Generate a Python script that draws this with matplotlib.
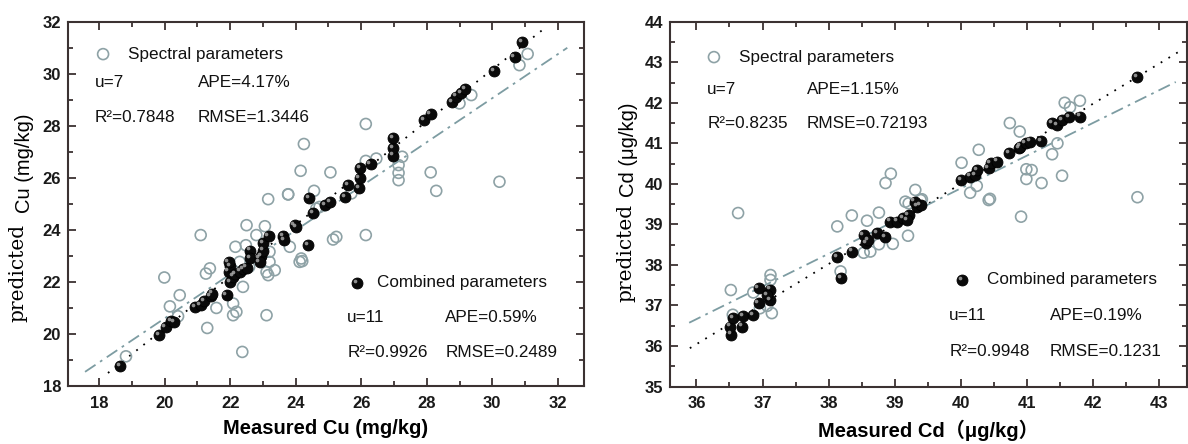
import matplotlib
matplotlib.use("Agg")
import matplotlib.pyplot as plt
import matplotlib.transforms as mtransforms
from matplotlib.ticker import MultipleLocator
import numpy as np

# ---- data ----
# Cu, spectral parameters (open circles)
cu_spec_meas = [18.82, 19.99, 20.16, 20.46, 20.41, 21.10, 21.30, 21.38, 21.26, 21.58,
                22.09, 22.09, 22.19, 22.16, 22.37, 22.39, 22.50, 22.48, 22.80, 23.06,
                23.11, 23.16, 23.11, 23.36, 23.20, 23.20, 23.82, 24.12, 22.58, 22.29,
                26.14, 24.25, 24.15, 25.06, 23.77, 24.56, 26.14, 26.46, 27.25, 27.14,
                27.14, 27.14, 28.12, 28.29, 30.22, 29.00, 29.36, 30.83, 31.08, 25.70,
                24.63, 24.17, 24.20, 25.14, 25.24, 26.14, 24.73, 23.16, 23.77]
cu_spec_pred = [19.14, 22.17, 21.06, 21.49, 20.68, 23.80, 20.23, 22.52, 22.32, 21.00,
                21.17, 20.72, 20.85, 23.35, 19.31, 21.81, 24.18, 23.41, 23.80, 24.14,
                20.72, 22.26, 22.38, 22.45, 22.77, 23.16, 23.35, 22.77, 22.58, 22.77,
                28.07, 27.30, 26.27, 26.21, 25.37, 25.50, 26.65, 26.74, 26.81, 26.49,
                26.19, 25.91, 26.21, 25.50, 25.85, 28.86, 29.18, 30.33, 30.76, 25.40,
                24.82, 22.90, 22.80, 23.63, 23.73, 23.80, 24.88, 25.18, 25.36]
# Cu, combined parameters (filled circles)
cu_comb_meas = [18.64, 19.83, 20.03, 20.20, 20.30, 20.92, 21.10, 21.20, 21.40, 21.45,
                21.89, 22.00, 22.10, 21.95, 22.00, 21.95, 22.15, 22.30, 22.40, 22.50,
                22.60, 22.60, 22.90, 22.95, 23.00, 23.00, 23.17, 22.90, 23.61, 23.65,
                23.97, 24.02, 24.38, 24.53, 24.89, 25.04, 24.40, 25.50, 25.60, 25.93,
                25.95, 25.97, 26.29, 26.97, 26.97, 26.97, 27.93, 28.12, 28.78, 28.90,
                29.05, 29.17, 30.05, 30.68, 30.91]
cu_comb_pred = [18.75, 19.95, 20.27, 20.50, 20.45, 21.04, 21.10, 21.25, 21.45, 21.55,
                21.49, 22.00, 22.20, 22.40, 22.60, 22.75, 22.30, 22.40, 22.50, 22.55,
                23.20, 22.90, 22.90, 23.00, 23.20, 23.50, 23.76, 22.75, 23.76, 23.60,
                24.18, 24.10, 23.41, 24.63, 24.95, 25.08, 25.21, 25.27, 25.72, 25.59,
                26.00, 26.38, 26.53, 26.85, 27.13, 27.52, 28.22, 28.45, 28.92, 29.12,
                29.27, 29.40, 30.10, 30.65, 31.21]

# Cd, spectral parameters
cd_spec_meas = [36.63, 36.52, 36.55, 36.86, 37.12, 37.12, 37.14, 37.07, 36.96, 38.13,
                38.35, 38.58, 38.76, 38.18, 38.53, 38.63, 38.76, 38.97, 39.20, 39.16,
                38.86, 38.94, 39.31, 39.39, 39.21, 40.01, 40.27, 40.14, 40.24, 40.44,
                40.74, 40.89, 40.99, 41.07, 40.99, 41.22, 40.91, 41.38, 41.46, 41.53,
                41.57, 41.65, 41.80, 42.67, 39.41, 40.42]
cd_spec_pred = [39.28, 37.38, 36.77, 37.32, 37.75, 37.63, 36.81, 36.99, 36.93, 38.95,
                39.22, 39.09, 39.29, 37.84, 38.30, 38.33, 38.51, 38.52, 38.72, 39.56,
                40.02, 40.25, 39.85, 39.60, 39.52, 40.52, 40.84, 39.78, 39.95, 39.63,
                41.50, 41.29, 40.36, 40.34, 40.12, 40.02, 39.19, 40.73, 41.00, 40.20,
                42.00, 41.89, 42.05, 39.67, 39.62, 39.60]
# Cd, combined parameters
cd_comb_meas = [36.53, 36.51, 36.56, 36.69, 36.70, 36.86, 36.94, 36.94, 37.12, 37.12,
                37.07, 38.13, 38.19, 38.35, 38.53, 38.57, 38.60, 38.73, 38.85, 38.93,
                39.03, 39.13, 39.21, 39.19, 39.34, 39.39, 39.30, 40.00, 40.14, 40.22,
                40.25, 40.42, 40.45, 40.55, 40.73, 40.88, 40.90, 40.98, 41.05, 41.21,
                41.38, 41.46, 41.53, 41.64, 41.80, 42.67]
cd_comb_pred = [36.28, 36.48, 36.69, 36.48, 36.73, 36.77, 37.06, 37.43, 37.14, 37.39,
                37.26, 38.19, 37.67, 38.33, 38.74, 38.54, 38.62, 38.78, 38.68, 39.07,
                39.07, 39.15, 39.23, 39.11, 39.44, 39.48, 39.56, 40.10, 40.18, 40.22,
                40.33, 40.39, 40.51, 40.55, 40.76, 40.88, 40.92, 41.00, 41.04, 41.06,
                41.50, 41.45, 41.58, 41.64, 41.66, 42.63]

# fitted lines (slope, intercept) and x extent
cu_comb_fit = (0.994, 0.34)
cu_spec_fit = (0.846, 3.68)
cu_comb_range = (18.27, 31.53)
cu_spec_range = (17.57, 32.29)
cd_comb_fit = (0.989, 0.44)
cd_spec_fit = (0.807, 7.61)
cd_comb_range = (35.90, 43.28)
cd_spec_range = (35.89, 43.25)

cu_stats = {"spec": ("u=7", "APE=4.17%", "R\u00b2=0.7848", "RMSE=1.3446"),
            "comb": ("u=11", "APE=0.59%", "R\u00b2=0.9926", "RMSE=0.2489")}
cd_stats = {"spec": ("u=7", "APE=1.15%", "R\u00b2=0.8235", "RMSE=0.72193"),
            "comb": ("u=11", "APE=0.19%", "R\u00b2=0.9948", "RMSE=0.1231")}

SANS = ["Liberation Sans", "DejaVu Sans"]
OPEN_COLOR = "#8ea2a6"
LINE_COLOR = "#7d9ca2"
SPINE_COLOR = "#3b3232"
MS = 62

fig = plt.figure(figsize=(11.88, 4.44), dpi=100)
fig.patch.set_facecolor("white")


def spheres(ax, x, y, transform=None):
    """filled black markers with a small highlight, like the shaded balls"""
    tr = transform if transform is not None else ax.transData
    ax.scatter(x, y, s=MS, c="#0a0a0a", edgecolors="black", linewidths=0.6,
               zorder=4, transform=tr, clip_on=False)
    off = mtransforms.ScaledTranslation(-1.6 / 72, 1.6 / 72, fig.dpi_scale_trans)
    ax.scatter(x, y, s=7, c="#b0b0b0", linewidths=0, alpha=0.8,
               zorder=5, transform=tr + off, clip_on=False)


def open_circles(ax, x, y, transform=None):
    tr = transform if transform is not None else ax.transData
    ax.scatter(x, y, s=MS, facecolors="none", edgecolors=OPEN_COLOR,
               linewidths=1.2, zorder=3, transform=tr, clip_on=False)


def style_axes(ax, xlim, ylim, xmaj, xmin, ymaj, ymin):
    ax.set_xlim(*xlim)
    ax.set_ylim(*ylim)
    ax.xaxis.set_major_locator(MultipleLocator(xmaj))
    ax.xaxis.set_minor_locator(MultipleLocator(xmin))
    ax.yaxis.set_major_locator(MultipleLocator(ymaj))
    ax.yaxis.set_minor_locator(MultipleLocator(ymin))
    for s in ax.spines.values():
        s.set_color(SPINE_COLOR)
        s.set_linewidth(1.5)
    ax.tick_params(which="both", direction="in", top=True, right=True,
                   colors=SPINE_COLOR, width=1.3)
    ax.tick_params(which="major", length=6)
    ax.tick_params(which="minor", length=3.5)
    ax.tick_params(axis="x", pad=7)
    ax.tick_params(axis="y", pad=5)
    for lab in ax.get_xticklabels() + ax.get_yticklabels():
        lab.set_family(SANS)
        lab.set_fontweight("bold")
        lab.set_fontsize(12)
        lab.set_color("#1a1a1a")


def fit_lines(ax, comb_fit, comb_rng, spec_fit, spec_rng):
    xs = np.array(comb_rng)
    ax.plot(xs, comb_fit[0] * xs + comb_fit[1], color="black", lw=1.3,
            linestyle=(0, (1, 4)), zorder=2)
    xs = np.array(spec_rng)
    ax.plot(xs, spec_fit[0] * xs + spec_fit[1], color=LINE_COLOR, lw=1.3,
            linestyle=(0, (7, 3, 1.5, 3)), zorder=2)


def stats_block(ax, stats, pos):
    kw = dict(transform=ax.transAxes, family=SANS, fontsize=12.3,
              va="center", ha="left", color="#111111", zorder=6)
    # pos: marker xy, label x, column1 x, column2 x, row1 y, row2 y
    (mx, my), lx, c1, c2, r1, r2, which = pos
    if which == "spec":
        open_circles(ax, [mx], [my], transform=ax.transAxes)
        ax.text(lx, my, "Spectral parameters", **kw)
    else:
        spheres(ax, [mx], [my], transform=ax.transAxes)
        ax.text(lx, my, "Combined parameters", **kw)
    u, ape, r2txt, rmse = stats[which]
    ax.text(c1, r1, u, **kw)
    ax.text(c2, r1, ape, **kw)
    ax.text(c1, r2, r2txt, **kw)
    ax.text(c2, r2, rmse, **kw)


# ---------------- left panel: Cu ----------------
ax1 = fig.add_axes([0.05724, 0.13063, 0.43434, 0.82050])
fit_lines(ax1, cu_comb_fit, cu_comb_range, cu_spec_fit, cu_spec_range)
open_circles(ax1, cu_spec_meas, cu_spec_pred)
spheres(ax1, cu_comb_meas, cu_comb_pred)
style_axes(ax1, (17.05, 32.8), (18, 32), 2, 1, 2, 1)
stats_block(ax1, cu_stats, ((0.068, 0.911), 0.116, 0.052, 0.252, 0.832, 0.738, "spec"))
stats_block(ax1, cu_stats, ((0.560, 0.283), 0.599, 0.541, 0.731, 0.187, 0.091, "comb"))
ax1.set_xlabel("Measured Cu (mg/kg)", family=SANS, fontweight="bold",
               fontsize=14.5, labelpad=6)
fig.text(0.0150, 0.2748, "predicted", family="DejaVu Serif", fontsize=14.5,
         rotation=90, ha="center", va="bottom")
fig.text(0.0205, 0.5200, "Cu (mg/kg)", family=SANS, fontsize=14.5,
         rotation=90, ha="center", va="bottom")

# ---------------- right panel: Cd ----------------
ax2 = fig.add_axes([0.56397, 0.12950, 0.43520, 0.82160])
fit_lines(ax2, cd_comb_fit, cd_comb_range, cd_spec_fit, cd_spec_range)
open_circles(ax2, cd_spec_meas, cd_spec_pred)
spheres(ax2, cd_comb_meas, cd_comb_pred)
style_axes(ax2, (35.6, 43.42), (35, 44), 1, 0.5, 1, 0.5)
stats_block(ax2, cd_stats, ((0.085, 0.903), 0.134, 0.072, 0.265, 0.813, 0.720, "spec"))
stats_block(ax2, cd_stats, ((0.565, 0.292), 0.613, 0.540, 0.735, 0.196, 0.095, "comb"))
ax2.set_xlabel("Measured Cd\uff08\u03bcg/kg\uff09",
               family=["Liberation Sans", "Noto Sans CJK SC"], fontweight="bold",
               fontsize=14.5, labelpad=6)
fig.text(0.5270, 0.3200, "predicted", family="DejaVu Serif", fontsize=14.5,
         rotation=90, ha="center", va="bottom")
fig.text(0.5290, 0.5560, "Cd (\u03bcg/kg)", family=SANS, fontsize=14.5,
         rotation=90, ha="center", va="bottom")

fig.savefig("out.png", dpi=100, facecolor="white")
